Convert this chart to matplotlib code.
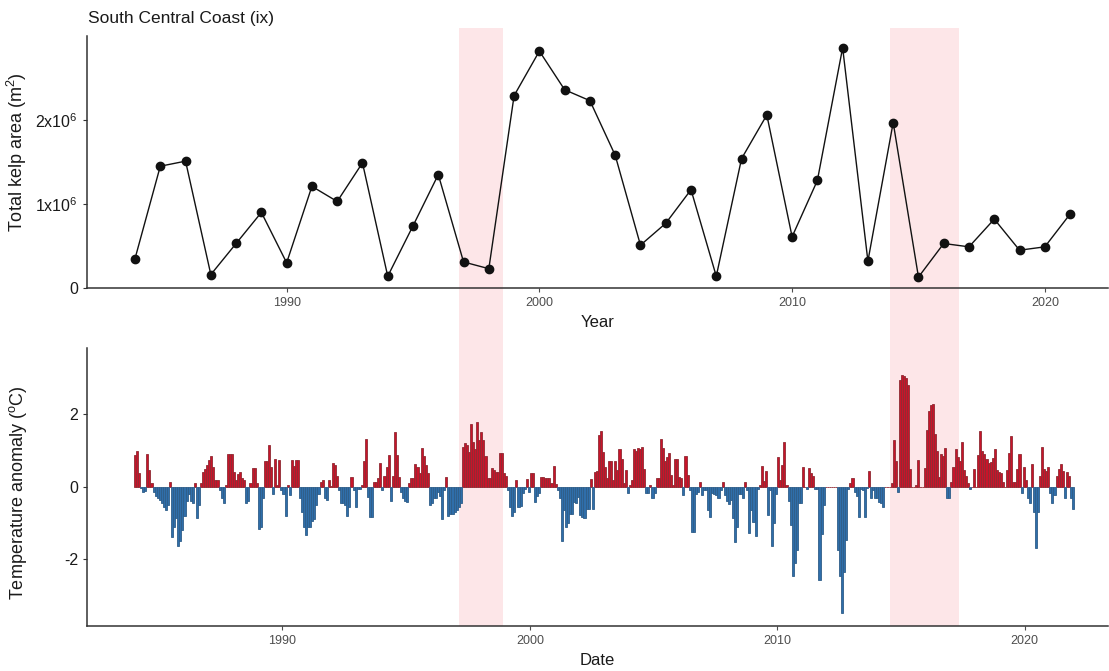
import matplotlib
matplotlib.use("Agg")
import matplotlib.pyplot as plt
import matplotlib.transforms as mtransforms
from matplotlib.patches import Rectangle
import numpy as np

plt.rcParams['font.family'] = ['Liberation Sans', 'DejaVu Sans']
plt.rcParams['mathtext.fontset'] = 'custom'
plt.rcParams['mathtext.rm'] = 'Liberation Sans'
plt.rcParams['mathtext.it'] = 'Liberation Sans:italic'

# ---------------- data ----------------
kelp_years = list(range(1984, 2022))
kelp_area_millions = [0.35, 1.45, 1.51, 0.16, 0.53, 0.90, 0.30, 1.21, 1.03, 1.49,
                      0.14, 0.74, 1.35, 0.31, 0.23, 2.29, 2.82, 2.36, 2.23, 1.58,
                      0.51, 0.77, 1.17, 0.14, 1.54, 2.06, 0.61, 1.28, 2.86, 0.32,
                      1.97, 0.13, 0.53, 0.49, 0.82, 0.45, 0.49, 0.88]

anomaly_start_year = 1984
# monthly temperature anomaly (degC), one row per year Jan..Dec
anomaly_by_year = [
    [0.87, 0.98, 0.37, -0.03, -0.15, -0.12, 0.90, 0.46, 0.10, -0.15, -0.25, -0.30],  # 1984
    [-0.35, -0.45, -0.55, -0.65, -0.50, 0.12, -1.38, -1.10, -0.85, -1.64, -1.50, -1.20],  # 1985
    [-0.80, -0.40, -0.20, -0.40, -0.45, 0.10, -0.85, -0.50, 0.10, 0.40, 0.50, 0.60],  # 1986
    [0.75, 0.85, 0.55, 0.20, 0.20, -0.10, -0.30, -0.45, 0.05, 0.90, 0.90, 0.90],  # 1987
    [0.40, 0.20, 0.35, 0.40, 0.25, 0.20, -0.45, -0.40, 0.10, 0.52, 0.52, 0.10],  # 1988
    [-1.17, -1.10, -0.30, 0.72, 0.72, 1.14, 0.55, -0.20, 0.78, 0.05, 0.75, -0.10],  # 1989
    [-0.20, -0.80, 0.05, -0.23, 0.75, 0.57, 0.75, 0.75, -0.30, -0.70, -1.10, -1.33],  # 1990
    [-1.10, -1.10, -0.95, -0.90, -0.50, -0.20, 0.12, 0.20, -0.30, -0.35, 0.18, 0.02],  # 1991
    [0.65, 0.60, 0.30, -0.10, -0.45, -0.45, -0.50, -0.80, -0.55, 0.28, -0.10, -0.55],  # 1992
    [-0.05, -0.05, 0.05, 0.72, 1.31, -0.28, -0.83, -0.83, 0.12, 0.12, 0.25, 0.65],  # 1993
    [-0.10, 0.30, 0.55, 0.87, -0.39, 0.30, 1.52, 0.87, 0.28, -0.15, -0.30, -0.40],  # 1994
    [-0.41, 0.10, 0.23, 0.25, 0.62, 0.55, 0.37, 1.07, 0.85, 0.60, 0.37, -0.50],  # 1995
    [-0.45, -0.30, -0.30, -0.15, -0.25, -0.90, -0.10, 0.28, -0.80, -0.75, -0.75, -0.70],  # 1996
    [-0.65, -0.55, -0.45, 1.10, 1.20, 1.15, 0.95, 1.72, 1.24, 1.05, 1.80, 1.30],  # 1997
    [1.50, 1.30, 0.85, 0.23, 0.25, 0.53, 0.46, 0.40, 0.40, 0.92, 0.92, 0.37],  # 1998
    [0.30, -0.10, -0.55, -0.80, -0.70, 0.18, -0.55, -0.53, -0.18, -0.05, 0.22, -0.14],  # 1999
    [0.37, 0.37, -0.41, -0.25, -0.18, 0.28, 0.28, 0.23, 0.23, 0.25, 0.10, 0.58],  # 2000
    [0.09, -0.10, -0.32, -1.50, -0.65, -1.10, -1.00, -0.74, -0.74, -0.41, -0.46, -0.28],  # 2001
    [-0.78, -0.83, -0.85, -0.60, -0.60, 0.22, -0.60, 0.40, 0.45, 1.42, 1.53, 0.97],  # 2002
    [0.55, 0.23, 0.72, 0.72, 0.20, 0.72, 0.46, 1.05, 0.78, 0.10, 0.46, -0.17],  # 2003
    [0.05, 0.20, 1.03, 1.00, 1.07, 1.05, 1.10, 0.50, -0.18, -0.17, 0.05, -0.30],  # 2004
    [-0.17, 0.25, 0.25, 1.32, 1.07, 0.70, 0.83, 0.92, 0.32, 0.05, 0.78, 0.78],  # 2005
    [0.28, 0.23, -0.23, 0.85, 0.32, -0.10, -1.24, -1.24, -0.20, -0.15, 0.14, -0.23],  # 2006
    [-0.10, -0.10, -0.64, -0.83, -0.18, -0.20, -0.23, -0.30, -0.10, 0.14, -0.23, -0.40],  # 2007
    [-0.48, -0.35, -0.87, -1.52, -1.10, -0.20, -0.20, -0.30, 0.14, -0.10, -1.27, -0.65],  # 2008
    [-0.97, -1.36, -0.05, 0.05, 0.58, 0.15, 0.44, -0.78, -0.10, -1.64, -1.00, -0.20],  # 2009
    [0.83, 0.20, 0.60, 1.24, 0.05, -0.40, -1.05, -2.46, -2.10, -1.75, -0.46, -0.44],  # 2010
    [0.55, 0.00, -0.05, 0.53, 0.37, 0.30, -0.05, -0.05, -2.57, -1.30, -0.50, 0.00],  # 2011
    [0.00, 0.00, 0.00, 0.00, 0.00, -1.75, -2.45, -3.48, -2.35, -1.47, -0.05, 0.10],  # 2012
    [0.25, -0.14, -0.26, -0.83, -0.05, -0.10, -0.83, -0.02, 0.44, -0.32, -0.10, -0.30],  # 2013
    [-0.32, -0.41, -0.45, -0.57, 0.00, 0.00, 0.00, 0.11, 1.30, 0.70, -0.14, 2.95],  # 2014
    [3.08, 3.05, 3.00, 2.80, 0.48, 0.00, 0.00, 0.05, 0.74, 0.00, 0.00, 0.52],  # 2015
    [1.56, 2.10, 2.25, 2.28, 1.47, 1.00, 0.28, 0.90, 0.85, 1.07, -0.32, -0.32],  # 2016
    [0.14, 0.55, 1.04, 0.83, 0.70, 1.25, 0.46, 0.30, 0.10, -0.05, 0.00, 0.49],  # 2017
    [0.00, 0.87, 1.55, 1.00, 0.90, 0.78, 0.65, 0.69, 0.80, 1.03, 0.46, 0.40],  # 2018
    [0.37, 0.14, 0.00, 0.46, 0.94, 1.40, 0.14, 0.14, 0.50, 0.90, -0.17, 0.55],  # 2019
    [0.20, -0.30, -0.46, 0.63, -0.70, -1.70, -0.70, 0.30, 1.10, 0.49, 0.45, 0.55],  # 2020
    [-0.17, -0.44, -0.23, 0.30, 0.50, 0.64, 0.45, -0.32, 0.41, 0.30, -0.30, -0.62],  # 2021
]

heatwave_periods = [(1997.15, 1998.93), (2014.55, 2017.35)]

title = "South Central Coast (ix)"
top_xticks = [1990, 2000, 2010, 2020]
top_yticks = [0, 1e6, 2e6]
top_yticklabels = ["0", r"1x10$^{6}$", r"2x10$^{6}$"]
bot_yticks = [-2, 0, 2]
bot_yticklabels = ["-2", "0", "2"]

# ---------------- figure ----------------
W, H = 1109, 671
fig = plt.figure(figsize=(W / 100, H / 100), dpi=100)
fig.patch.set_facecolor("white")

def frac_box(x0, y0, x1, y1):
    return [x0 / W, 1 - y1 / H, (x1 - x0) / W, (y1 - y0) / H]

ax1 = fig.add_axes(frac_box(87, 36, 1108, 288))
ax2 = fig.add_axes(frac_box(87, 348, 1108, 626))

for ax in (ax1, ax2):
    ax.set_facecolor("none")
    for s in ("top", "right"):
        ax.spines[s].set_visible(False)
    for s in ("left", "bottom"):
        ax.spines[s].set_color("#333333")
        ax.spines[s].set_linewidth(1.1)
    ax.tick_params(axis="x", colors="#4d4d4d", labelsize=9, length=3, width=0.8)
    ax.tick_params(axis="y", colors="#333333", labelcolor="#1a1a1a", labelsize=11.5,
                   length=3, width=0.8)

# top panel
ax1.plot(kelp_years, np.array(kelp_area_millions) * 1e6, color="#111111", lw=1.0,
         marker="o", markersize=6, zorder=3)
ax1.set_xlim(1982.1, 2022.5)
ax1.set_ylim(0, 3.0e6)
ax1.set_xticks(top_xticks)
ax1.set_yticks(top_yticks)
ax1.set_yticklabels(top_yticklabels)
ax1.set_xlabel("Year", fontsize=12, color="#1a1a1a", labelpad=4)
ax1.set_ylabel(r"Total kelp area (m$^{2}$)", fontsize=13, color="#1a1a1a")
ax1.yaxis.set_label_coords(-0.057, 0.54)

fig.text(88 / W, 1 - 18 / H, title, fontsize=12.5, color="#1a1a1a", va="center", ha="left")

# bottom panel
anom = np.array(anomaly_by_year).ravel()
months = np.arange(len(anom))
xdates = anomaly_start_year + (months + 0.5) / 12.0
pos = anom >= 0
ax2.bar(xdates[pos], anom[pos], width=1 / 12, color="#c8142a", edgecolor="#8f2a33",
        linewidth=0.6, zorder=3)
ax2.bar(xdates[~pos], anom[~pos], width=1 / 12, color="#2f6eaa", edgecolor="#2e5d88",
        linewidth=0.6, zorder=3)
ax2.set_xlim(1982.1, 2023.37)
ax2.set_ylim(-3.84, 3.83)
ax2.set_xticks(top_xticks)
ax2.set_yticks(bot_yticks)
ax2.set_yticklabels(bot_yticklabels)
ax2.set_xlabel("Date", fontsize=12, color="#1a1a1a", labelpad=4)
ax2.set_ylabel(r"Temperature anomaly ($^{\mathrm{o}}$C)", fontsize=13, color="#1a1a1a")
ax2.yaxis.set_label_coords(-0.057, 0.48)

# heatwave shading spanning both panels
trans = mtransforms.blended_transform_factory(ax2.transData, fig.transFigure)
for x0, x1 in heatwave_periods:
    fig.add_artist(Rectangle((x0, 1 - 626 / H), x1 - x0, (626 - 28) / H,
                             transform=trans, facecolor="#fde6e8", edgecolor="none",
                             zorder=-1))

fig.savefig("out.png", dpi=100, facecolor="white")
